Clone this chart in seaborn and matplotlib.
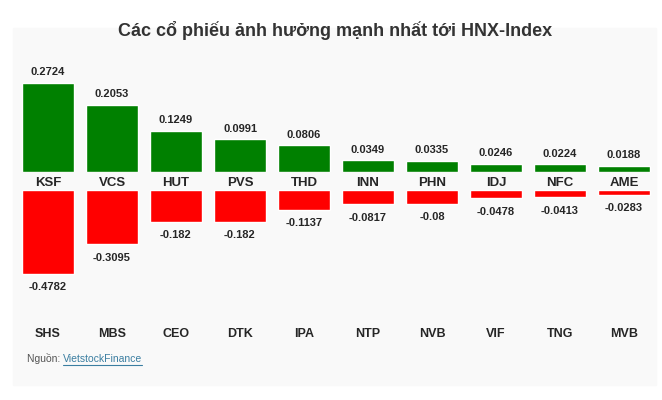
import matplotlib
matplotlib.use("Agg")
import matplotlib.pyplot as plt
import seaborn as sns
import pandas as pd
from matplotlib.patches import Rectangle

sns.set_style("white")
plt.rcParams['font.family'] = ['Liberation Sans', 'DejaVu Sans']

# data
up_names = ['KSF', 'VCS', 'HUT', 'PVS', 'THD', 'INN', 'PHN', 'IDJ', 'NFC', 'AME']
up_vals = [0.2724, 0.2053, 0.1249, 0.0991, 0.0806, 0.0349, 0.0335, 0.0246, 0.0224, 0.0188]
down_names = ['SHS', 'MBS', 'CEO', 'DTK', 'IPA', 'NTP', 'NVB', 'VIF', 'TNG', 'MVB']
down_vals = [-0.4782, -0.3095, -0.182, -0.182, -0.1137, -0.0817, -0.08, -0.0478, -0.0413, -0.0283]

df_up = pd.DataFrame({'ma': up_names, 'val': up_vals})
df_down = pd.DataFrame({'ma': down_names, 'val': down_vals})

W, H = 662, 400
fig = plt.figure(figsize=(W / 100, H / 100), dpi=100)

# light grey panel behind the chart
fig.patches.append(Rectangle((13 / W, 1 - 385 / H), 643 / W, 357 / H,
                             transform=fig.transFigure, color='#f9f9f9', zorder=-5))

fig.text(335 / W, 1 - 30 / H, 'Các cổ phiếu ảnh hưởng mạnh nhất tới HNX-Index',
         ha='center', va='center', fontsize=13, fontweight='bold', color='#333333')

left, width = 16 / W, 640 / W

# positive side: baseline at y=171.7px, 326 px per unit
ax1 = fig.add_axes([left, 1 - 171.7 / H, width, 111.7 / H])
sns.barplot(data=df_up, x='ma', y='val', color='#008000', width=0.81,
            saturation=1, ax=ax1)
ax1.set_ylim(0, 111.7 / 326)
ax1.set_xlim(-0.5, 9.5)
ax1.bar_label(ax1.containers[0], labels=[f"{v:g}" for v in up_vals],
              padding=4, fontsize=8, fontweight='bold')
ax1.set_xlabel('')
ax1.set_ylabel('')
ax1.set_yticks([])
ax1.tick_params(axis='x', length=0, pad=4, labelsize=9.5)
for t in ax1.get_xticklabels():
    t.set_fontweight('bold')
sns.despine(ax=ax1, left=True, bottom=True)
ax1.patch.set_alpha(0)

# negative side: top at y=190px, 176 px per unit
ax2 = fig.add_axes([left, 1 - 318 / H, width, 128 / H])
sns.barplot(data=df_down, x='ma', y='val', color='#ff0000', width=0.81,
            saturation=1, ax=ax2)
ax2.set_ylim(-128 / 176, 0)
ax2.set_xlim(-0.5, 9.5)
ax2.bar_label(ax2.containers[0], labels=[f"{v:g}" for v in down_vals],
              padding=6, fontsize=8, fontweight='bold')
ax2.set_xlabel('')
ax2.set_ylabel('')
ax2.set_yticks([])
ax2.tick_params(axis='x', length=0, pad=7, labelsize=9)
for t in ax2.get_xticklabels():
    t.set_fontweight('bold')
sns.despine(ax=ax2, left=True, bottom=True, top=True)
ax2.patch.set_alpha(0)

# source line
src = fig.text(27 / W, 1 - 359 / H, 'Nguồn: ', ha='left', va='center',
               fontsize=7.5, color='#555555')
fig.canvas.draw()
bb = src.get_window_extent()
link = fig.text(bb.x1 / W, 1 - 359 / H, 'VietstockFinance', ha='left', va='center',
                fontsize=7.5, color='#3b7ea1')
link_w = link.get_window_extent().width
fig.add_artist(plt.Line2D([bb.x1 / W, (bb.x1 + link_w) / W],
                          [1 - 365 / H, 1 - 365 / H], color='#3b7ea1', lw=0.8))

fig.savefig('out.png', dpi=100, facecolor='white')
